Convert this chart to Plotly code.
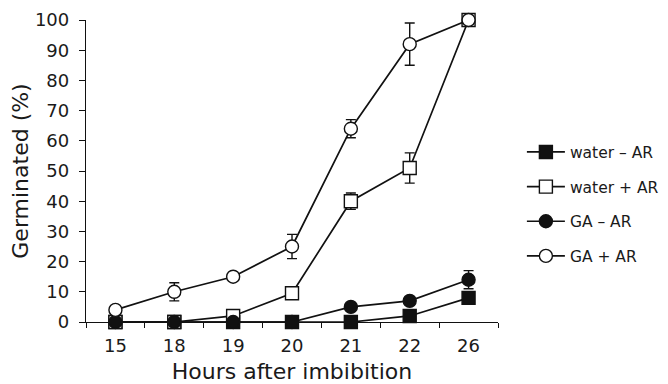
import plotly.graph_objects as go

hours = ["15", "18", "19", "20", "21", "22", "26"]
water_minus = [0, 0, 0, 0, 0, 2, 8]
water_minus_err = [0, 0, 0, 0, 0, 0, 0]
water_plus = [0, 0, 2, 9.5, 40, 51, 100]
water_plus_err = [0, 0, 0, 0, 2.7, 5, 0]
ga_minus = [0, 0, 0, 0, 5, 7, 14]
ga_minus_err = [0, 0, 0, 0, 0, 0, 3]
ga_plus = [4, 10, 15, 25, 64, 92, 100]
ga_plus_err = [0, 3, 0, 4, 3, 7, 0]

names = ["water \u2013 AR", "water + AR", "GA \u2013 AR", "GA + AR"]
series = [water_minus, water_plus, ga_minus, ga_plus]
errs = [water_minus_err, water_plus_err, ga_minus_err, ga_plus_err]
symbols = ["square", "square", "circle", "circle"]
fills = ["#111111", "white", "#111111", "white"]

fig = go.Figure()
for i in range(4):
    fig.add_trace(go.Scatter(
        x=hours, y=series[i], name=names[i], mode="lines+markers",
        line=dict(color="#111111", width=1.7),
        marker=dict(symbol=symbols[i], size=13, color=fills[i],
                    line=dict(color="#111111", width=1.4)),
        error_y=dict(type="data", array=errs[i], visible=True,
                     color="#111111", thickness=1.4, width=5),
        cliponaxis=False, legendgroup=str(i),
    ))

# page body has an 8px default margin, so the figure is sized to fit the window
fig.update_layout(
    width=660, height=376,
    margin=dict(l=78, r=170, t=12, b=62, autoexpand=False),
    paper_bgcolor="white", plot_bgcolor="white",
    font=dict(family="DejaVu Sans, sans-serif", size=18, color="#1a1a1a"),
    showlegend=True,
    legend=dict(x=1.058, y=0.618, xanchor="left", yanchor="top",
                font=dict(size=15.5), tracegroupgap=11.5, itemwidth=38,
                bgcolor="rgba(0,0,0,0)"),
    xaxis=dict(type="category", range=[-0.5, 6.5], showline=True,
               linecolor="#111111", linewidth=1.3, ticks="outside",
               tickson="boundaries", ticklen=5, tickcolor="#111111",
               tickwidth=1.3, showgrid=False, zeroline=False,
               ticklabelstandoff=7, automargin=False,
               title=dict(text="Hours after imbibition", standoff=15)),
    yaxis=dict(range=[0, 100], dtick=10, showline=True,
               linecolor="#111111", linewidth=1.3, ticks="outside",
               ticklen=6, tickcolor="#111111", tickwidth=1.3,
               showgrid=False, zeroline=False,
               ticklabelstandoff=6, automargin=False,
               title=dict(text="Germinated (%)", standoff=11)),
)

fig.write_html("out.html")
